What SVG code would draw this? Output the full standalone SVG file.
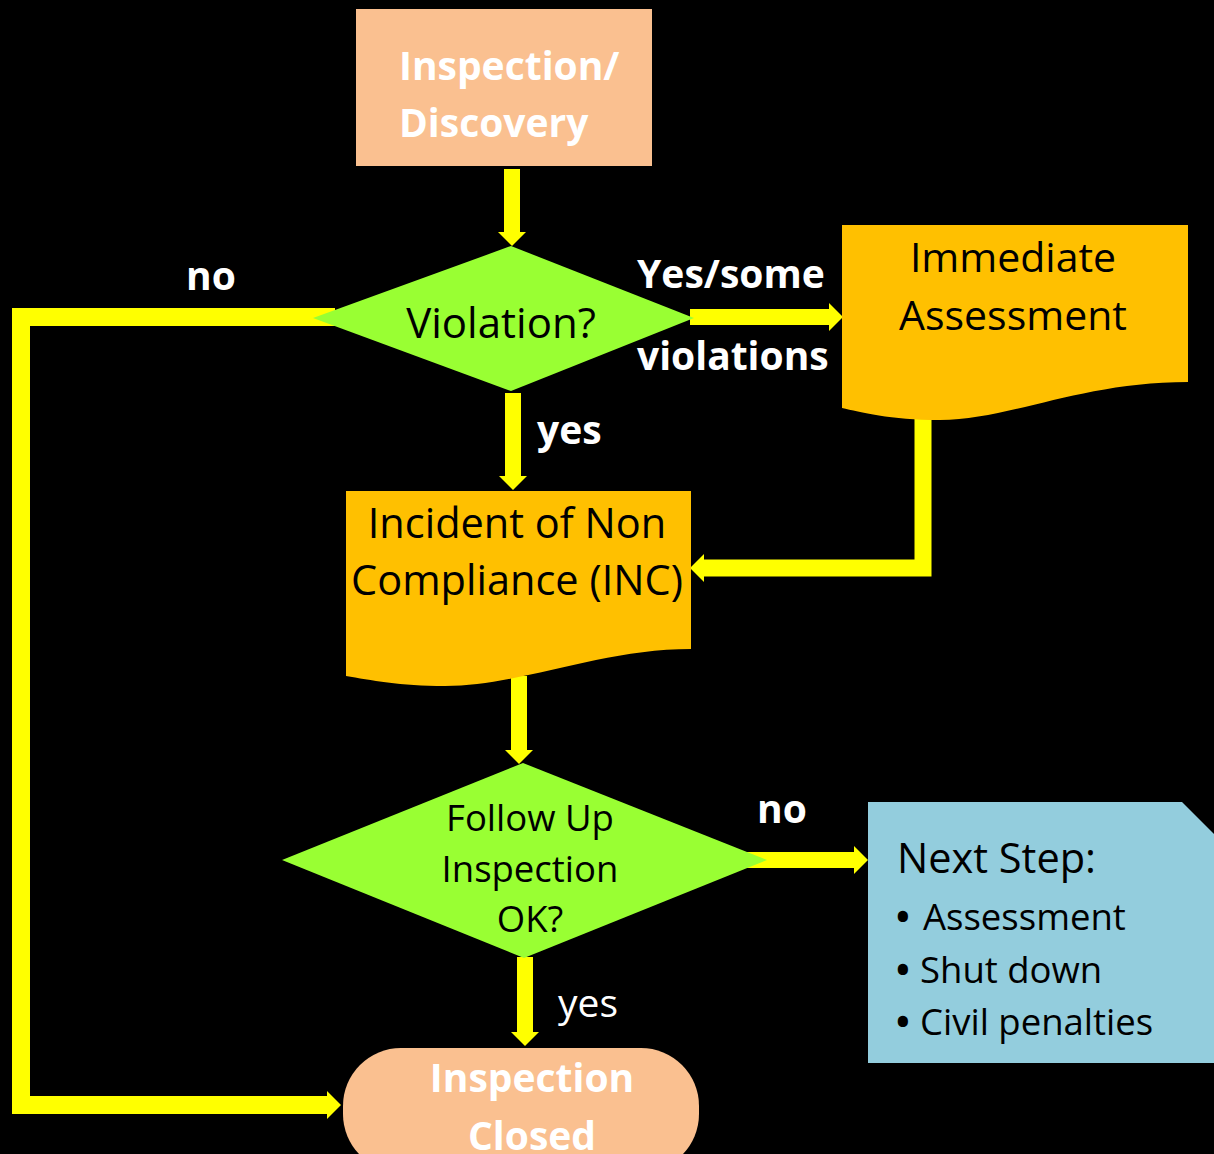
<svg xmlns="http://www.w3.org/2000/svg" width="1214" height="1154" viewBox="0 0 1214 1154">
<defs>
<style>
.t{font-family:"Open Sans","Noto Sans","Liberation Sans",sans-serif;}
.b{font-weight:700;fill:#FFFFFF;font-size:39px;}
.k{fill:#000000;}
.w{fill:#FFFFFF;}
.c{stroke:#FFFF00;fill:none;stroke-width:16;stroke-linecap:butt;stroke-linejoin:miter;}
.bul{font-weight:700;}
</style>
<marker id="ah" viewBox="0 0 14 28" refX="0" refY="14" markerWidth="14" markerHeight="28" markerUnits="userSpaceOnUse" orient="auto">
<path d="M0,0 L14,14 L0,28 Z" fill="#FFFF00"/>
</marker>
</defs>
<rect x="0" y="0" width="1214" height="1154" fill="#000000"/>
<g id="connectors">
<path class="c" d="M512,169 V232" marker-end="url(#ah)"/>
<path class="c" d="M690,317 H829" marker-end="url(#ah)"/>
<path class="c" style="stroke-width:18" d="M335,317 H21 V1105 H327" marker-end="url(#ah)"/>
<path class="c" d="M513,393 V476" marker-end="url(#ah)"/>
<path class="c" style="stroke-width:17" d="M923,412 V568 H704" marker-end="url(#ah)"/>
<path class="c" d="M519,676 V750" marker-end="url(#ah)"/>
<path class="c" d="M740,860 H854" marker-end="url(#ah)"/>
<path class="c" d="M525,957 V1032" marker-end="url(#ah)"/>
</g>
<g id="labels">
<text class="t b" x="186" y="290">no</text>
<text class="t b" x="637" y="288">Yes/some</text>
<text class="t b" x="637" y="370">violations</text>
<text class="t b" x="537" y="444">yes</text>
<text class="t b" x="757" y="823">no</text>
<text class="t w" x="558" y="1017" font-size="39">yes</text>
</g>
<g id="inspection-discovery">
<rect x="356" y="9" width="296" height="157" fill="#FAC090"/>
<text class="t b" x="399" y="80">Inspection/</text>
<text class="t b" x="399" y="137">Discovery</text>
</g>
<g id="violation">
<polygon points="511,246 694,318 511,391 313,318" fill="#99FF33"/>
<text class="t k" x="501" y="338" font-size="42" text-anchor="middle">Violation?</text>
</g>
<g id="immediate-assessment">
<path d="M842,225 H1188 V382 C1080,382 1010,420 940,420 C890,420 860,412 842,408 Z" fill="#FFC000"/>
<text class="t k" x="1013" y="272" font-size="41" text-anchor="middle">Immediate</text>
<text class="t k" x="1013" y="330" font-size="41" text-anchor="middle">Assessment</text>
</g>
<g id="inc">
<path d="M346,491 H691 V649 C600,649 520,686 445,686 C400,686 370,680 346,676 Z" fill="#FFC000"/>
<text class="t k" x="517" y="538" font-size="41.5" text-anchor="middle">Incident of Non</text>
<text class="t k" x="517" y="595" font-size="41.5" text-anchor="middle">Compliance (INC)</text>
</g>
<g id="follow-up">
<polygon points="523,763 767,860 524,958 282,860" fill="#99FF33"/>
<text class="t k" x="530" y="831" font-size="36.5" text-anchor="middle">Follow Up</text>
<text class="t k" x="530" y="882" font-size="36.5" text-anchor="middle">Inspection</text>
<text class="t k" x="530" y="932" font-size="36.5" text-anchor="middle">OK?</text>
</g>
<g id="next-step">
<path d="M868,802 H1182 L1214,834 V1063 H868 Z" fill="#93CDDD"/>
<text class="t k" x="897" y="873" font-size="41.5">Next Step:</text>
<text class="t k" x="896" y="930" font-size="36.5"><tspan class="bul">•</tspan><tspan x="923">Assessment</tspan></text>
<text class="t k" x="896" y="983" font-size="36.5"><tspan class="bul">•</tspan><tspan x="920">Shut down</tspan></text>
<text class="t k" x="896" y="1035" font-size="36.5"><tspan class="bul">•</tspan><tspan x="920">Civil penalties</tspan></text>
</g>
<g id="inspection-closed">
<rect x="343" y="1048" width="356" height="124" rx="58" ry="58" fill="#FAC090"/>
<text class="t b" x="532" y="1092" text-anchor="middle">Inspection</text>
<text class="t b" x="532" y="1150" text-anchor="middle">Closed</text>
</g>
</svg>
